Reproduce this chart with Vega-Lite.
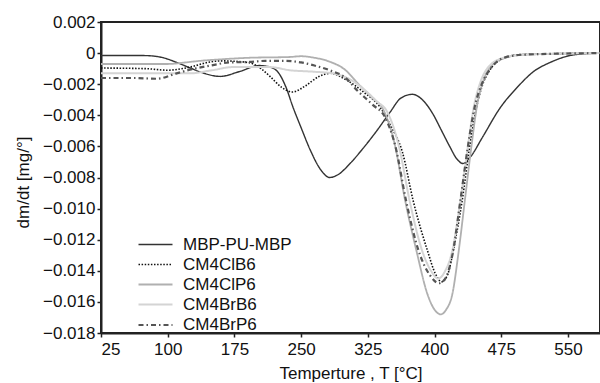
{
  "$schema": "https://vega.github.io/schema/vega-lite/v6.json",
  "width": 499,
  "height": 311,
  "autosize": {"type": "none"},
  "padding": {"left": 101, "top": 22, "right": 0, "bottom": 50},
  "background": "white",
  "config": {
    "font": "Liberation Sans",
    "view": {"stroke": "#222", "strokeWidth": 2},
    "axis": {
      "grid": false,
      "domainColor": "#222",
      "domainWidth": 2,
      "tickColor": "#222",
      "tickWidth": 1.5,
      "tickSize": 4,
      "labelFont": "Liberation Sans",
      "labelFontSize": 17,
      "labelColor": "#111",
      "titleFont": "Liberation Sans",
      "titleFontSize": 17,
      "titleFontWeight": "normal",
      "titleColor": "#111"
    },
    "legend": {
      "labelFont": "Liberation Sans",
      "labelFontSize": 17,
      "labelColor": "#111"
    }
  },
  "datasets": {
    "curves": [
      {"s":"MBP-PU-MBP","T":25,"v":-0.00016},{"s":"MBP-PU-MBP","T":50,"v":-0.00015},{"s":"MBP-PU-MBP","T":75,"v":-0.00016},{"s":"MBP-PU-MBP","T":95,"v":-0.0003},{"s":"MBP-PU-MBP","T":110,"v":-0.0006},{"s":"MBP-PU-MBP","T":125,"v":-0.00095},{"s":"MBP-PU-MBP","T":140,"v":-0.00128},{"s":"MBP-PU-MBP","T":159,"v":-0.0015},{"s":"MBP-PU-MBP","T":180,"v":-0.0012},{"s":"MBP-PU-MBP","T":203,"v":-0.0008},{"s":"MBP-PU-MBP","T":215,"v":-0.0009},{"s":"MBP-PU-MBP","T":225,"v":-0.0013},{"s":"MBP-PU-MBP","T":233,"v":-0.0022},{"s":"MBP-PU-MBP","T":241,"v":-0.0035},{"s":"MBP-PU-MBP","T":250,"v":-0.0048},{"s":"MBP-PU-MBP","T":260,"v":-0.0062},{"s":"MBP-PU-MBP","T":272,"v":-0.0075},{"s":"MBP-PU-MBP","T":282,"v":-0.0080},{"s":"MBP-PU-MBP","T":292,"v":-0.0078},{"s":"MBP-PU-MBP","T":305,"v":-0.0071},{"s":"MBP-PU-MBP","T":320,"v":-0.0061},{"s":"MBP-PU-MBP","T":335,"v":-0.0050},{"s":"MBP-PU-MBP","T":350,"v":-0.0038},{"s":"MBP-PU-MBP","T":362,"v":-0.0029},{"s":"MBP-PU-MBP","T":375,"v":-0.00265},{"s":"MBP-PU-MBP","T":388,"v":-0.0031},{"s":"MBP-PU-MBP","T":398,"v":-0.0039},{"s":"MBP-PU-MBP","T":408,"v":-0.0050},{"s":"MBP-PU-MBP","T":417,"v":-0.0060},{"s":"MBP-PU-MBP","T":425,"v":-0.0068},{"s":"MBP-PU-MBP","T":432,"v":-0.0071},{"s":"MBP-PU-MBP","T":440,"v":-0.0067},{"s":"MBP-PU-MBP","T":454,"v":-0.0054},{"s":"MBP-PU-MBP","T":474,"v":-0.0035},{"s":"MBP-PU-MBP","T":493,"v":-0.0022},{"s":"MBP-PU-MBP","T":511,"v":-0.0012},{"s":"MBP-PU-MBP","T":530,"v":-0.0006},{"s":"MBP-PU-MBP","T":558,"v":-0.0001},{"s":"MBP-PU-MBP","T":586,"v":0},

      {"s":"CM4ClB6","T":25,"v":-0.00096},{"s":"CM4ClB6","T":75,"v":-0.001},{"s":"CM4ClB6","T":100,"v":-0.0011},{"s":"CM4ClB6","T":125,"v":-0.0009},{"s":"CM4ClB6","T":145,"v":-0.0006},{"s":"CM4ClB6","T":160,"v":-0.0005},{"s":"CM4ClB6","T":190,"v":-0.0006},{"s":"CM4ClB6","T":205,"v":-0.0010},{"s":"CM4ClB6","T":215,"v":-0.0015},{"s":"CM4ClB6","T":228,"v":-0.0022},{"s":"CM4ClB6","T":240,"v":-0.0025},{"s":"CM4ClB6","T":255,"v":-0.0021},{"s":"CM4ClB6","T":270,"v":-0.0015},{"s":"CM4ClB6","T":283,"v":-0.0013},{"s":"CM4ClB6","T":300,"v":-0.0017},{"s":"CM4ClB6","T":320,"v":-0.0025},{"s":"CM4ClB6","T":339,"v":-0.0035},{"s":"CM4ClB6","T":350,"v":-0.0046},{"s":"CM4ClB6","T":364,"v":-0.0064},{"s":"CM4ClB6","T":376,"v":-0.0095},{"s":"CM4ClB6","T":392,"v":-0.0127},{"s":"CM4ClB6","T":401,"v":-0.0142},{"s":"CM4ClB6","T":408,"v":-0.0147},{"s":"CM4ClB6","T":415,"v":-0.0142},{"s":"CM4ClB6","T":421,"v":-0.0127},{"s":"CM4ClB6","T":431,"v":-0.0095},{"s":"CM4ClB6","T":439,"v":-0.0062},{"s":"CM4ClB6","T":446,"v":-0.0038},{"s":"CM4ClB6","T":453,"v":-0.0022},{"s":"CM4ClB6","T":462,"v":-0.0011},{"s":"CM4ClB6","T":475,"v":-0.0004},{"s":"CM4ClB6","T":495,"v":-0.0001},{"s":"CM4ClB6","T":586,"v":0},

      {"s":"CM4ClP6","T":25,"v":-0.0007},{"s":"CM4ClP6","T":75,"v":-0.0007},{"s":"CM4ClP6","T":100,"v":-0.0007},{"s":"CM4ClP6","T":120,"v":-0.0006},{"s":"CM4ClP6","T":136,"v":-0.0005},{"s":"CM4ClP6","T":160,"v":-0.0004},{"s":"CM4ClP6","T":192,"v":-0.0003},{"s":"CM4ClP6","T":237,"v":-0.00025},{"s":"CM4ClP6","T":250,"v":-0.0002},{"s":"CM4ClP6","T":265,"v":-0.0003},{"s":"CM4ClP6","T":282,"v":-0.00055},{"s":"CM4ClP6","T":300,"v":-0.0011},{"s":"CM4ClP6","T":313,"v":-0.0019},{"s":"CM4ClP6","T":330,"v":-0.0029},{"s":"CM4ClP6","T":342,"v":-0.0036},{"s":"CM4ClP6","T":355,"v":-0.0058},{"s":"CM4ClP6","T":367,"v":-0.0095},{"s":"CM4ClP6","T":380,"v":-0.0128},{"s":"CM4ClP6","T":392,"v":-0.0155},{"s":"CM4ClP6","T":400,"v":-0.0165},{"s":"CM4ClP6","T":407,"v":-0.0168},{"s":"CM4ClP6","T":413,"v":-0.0165},{"s":"CM4ClP6","T":420,"v":-0.0155},{"s":"CM4ClP6","T":427,"v":-0.0128},{"s":"CM4ClP6","T":434,"v":-0.0095},{"s":"CM4ClP6","T":441,"v":-0.0062},{"s":"CM4ClP6","T":448,"v":-0.0033},{"s":"CM4ClP6","T":456,"v":-0.0016},{"s":"CM4ClP6","T":466,"v":-0.0007},{"s":"CM4ClP6","T":480,"v":-0.0003},{"s":"CM4ClP6","T":500,"v":-0.0001},{"s":"CM4ClP6","T":586,"v":0},

      {"s":"CM4BrB6","T":25,"v":-0.0013},{"s":"CM4BrB6","T":75,"v":-0.0013},{"s":"CM4BrB6","T":125,"v":-0.0013},{"s":"CM4BrB6","T":150,"v":-0.0011},{"s":"CM4BrB6","T":173,"v":-0.0009},{"s":"CM4BrB6","T":200,"v":-0.0009},{"s":"CM4BrB6","T":215,"v":-0.0009},{"s":"CM4BrB6","T":237,"v":-0.0011},{"s":"CM4BrB6","T":265,"v":-0.0012},{"s":"CM4BrB6","T":285,"v":-0.0013},{"s":"CM4BrB6","T":302,"v":-0.0016},{"s":"CM4BrB6","T":320,"v":-0.0023},{"s":"CM4BrB6","T":335,"v":-0.0031},{"s":"CM4BrB6","T":347,"v":-0.0038},{"s":"CM4BrB6","T":360,"v":-0.0060},{"s":"CM4BrB6","T":372,"v":-0.0095},{"s":"CM4BrB6","T":386,"v":-0.0127},{"s":"CM4BrB6","T":396,"v":-0.0140},{"s":"CM4BrB6","T":404,"v":-0.0145},{"s":"CM4BrB6","T":412,"v":-0.0140},{"s":"CM4BrB6","T":420,"v":-0.0127},{"s":"CM4BrB6","T":429,"v":-0.0095},{"s":"CM4BrB6","T":437,"v":-0.0062},{"s":"CM4BrB6","T":444,"v":-0.0035},{"s":"CM4BrB6","T":452,"v":-0.0018},{"s":"CM4BrB6","T":462,"v":-0.0008},{"s":"CM4BrB6","T":478,"v":-0.0003},{"s":"CM4BrB6","T":500,"v":-0.0001},{"s":"CM4BrB6","T":586,"v":0},

      {"s":"CM4BrP6","T":25,"v":-0.0016},{"s":"CM4BrP6","T":60,"v":-0.0016},{"s":"CM4BrP6","T":88,"v":-0.00165},{"s":"CM4BrP6","T":110,"v":-0.0013},{"s":"CM4BrP6","T":130,"v":-0.0010},{"s":"CM4BrP6","T":148,"v":-0.0008},{"s":"CM4BrP6","T":170,"v":-0.0006},{"s":"CM4BrP6","T":192,"v":-0.00057},{"s":"CM4BrP6","T":210,"v":-0.0005},{"s":"CM4BrP6","T":230,"v":-0.0005},{"s":"CM4BrP6","T":250,"v":-0.0006},{"s":"CM4BrP6","T":265,"v":-0.0008},{"s":"CM4BrP6","T":282,"v":-0.0011},{"s":"CM4BrP6","T":300,"v":-0.0016},{"s":"CM4BrP6","T":313,"v":-0.0024},{"s":"CM4BrP6","T":330,"v":-0.0033},{"s":"CM4BrP6","T":345,"v":-0.0042},{"s":"CM4BrP6","T":356,"v":-0.0060},{"s":"CM4BrP6","T":368,"v":-0.0095},{"s":"CM4BrP6","T":382,"v":-0.0127},{"s":"CM4BrP6","T":395,"v":-0.0143},{"s":"CM4BrP6","T":405,"v":-0.0148},{"s":"CM4BrP6","T":412,"v":-0.0145},{"s":"CM4BrP6","T":420,"v":-0.0130},{"s":"CM4BrP6","T":429,"v":-0.0095},{"s":"CM4BrP6","T":437,"v":-0.0062},{"s":"CM4BrP6","T":445,"v":-0.0035},{"s":"CM4BrP6","T":453,"v":-0.0020},{"s":"CM4BrP6","T":463,"v":-0.0010},{"s":"CM4BrP6","T":478,"v":-0.0003},{"s":"CM4BrP6","T":500,"v":-0.0001},{"s":"CM4BrP6","T":586,"v":0}
    ]
  },
  "data": {"name": "curves"},
  "mark": {"type": "line", "interpolate": "monotone", "clip": true},
  "encoding": {
    "x": {
      "field": "T", "type": "quantitative",
      "scale": {"domain": [25, 586], "nice": false, "zero": false},
      "axis": {
        "values": [25, 100, 175, 250, 325, 400, 475, 550],
        "title": "Temperture , T [°C]",
        "labelPadding": 4,
        "titleAnchor": "middle",
        "titleBaseline": "alphabetic",
        "titleY": 45
      }
    },
    "y": {
      "field": "v", "type": "quantitative",
      "scale": {"domain": [-0.018, 0.002], "nice": false, "zero": false},
      "axis": {
        "values": [0.002, 0, -0.002, -0.004, -0.006, -0.008, -0.01, -0.012, -0.014, -0.016, -0.018],
        "labelExpr": "datum.value == 0 ? '0' : format(datum.value, '.3f')",
        "labelPadding": 2,
        "title": "dm/dt [mg/°]",
        "titleX": -78,
        "titleY": 160,
        "titleAngle": -90,
        "titleBaseline": "middle"
      }
    },
    "color": {
      "field": "s", "type": "nominal",
      "scale": {
        "domain": ["MBP-PU-MBP", "CM4ClB6", "CM4ClP6", "CM4BrB6", "CM4BrP6"],
        "range": ["#333333", "#111111", "#b0b0b0", "#d4d4d4", "#555555"]
      },
      "legend": {
        "title": null,
        "orient": "none",
        "legendX": 36,
        "legendY": 213,
        "padding": 0,
        "symbolType": "M-1,0L3,0",
        "symbolSize": 289,
        "labelOffset": 26,
        "rowPadding": 2
      }
    },
    "strokeDash": {
      "field": "s", "type": "nominal",
      "scale": {
        "domain": ["MBP-PU-MBP", "CM4ClB6", "CM4ClP6", "CM4BrB6", "CM4BrP6"],
        "range": [[1, 0], [1.5, 1.6], [1, 0], [1, 0], [5, 3, 1.5, 3]]
      },
      "legend": null
    },
    "strokeWidth": {
      "field": "s", "type": "nominal",
      "scale": {
        "domain": ["MBP-PU-MBP", "CM4ClB6", "CM4ClP6", "CM4BrB6", "CM4BrP6"],
        "range": [1.4, 2.2, 1.6, 1.1, 1.4]
      },
      "legend": null
    }
  }
}
